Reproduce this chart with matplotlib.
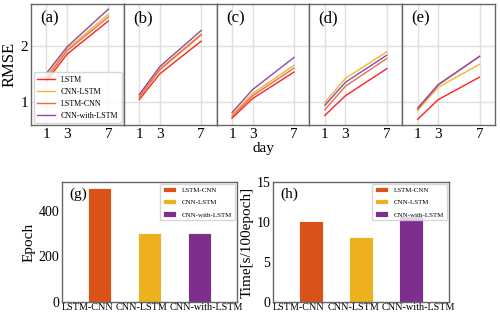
import numpy as np
import matplotlib
matplotlib.use('Agg')
import matplotlib.pyplot as plt

plt.rcParams['font.family'] = ['Liberation Serif', 'DejaVu Serif']

# data
days = [1, 3, 7]
models = ['LSTM', 'CNN-LSTM', 'LSTM-CNN', 'CNN-with-LSTM']
line_colors = ['#ff2020', '#f2b530', '#e57048', '#8e4aa8']
panel_names = ['(a)', '(b)', '(c)', '(d)', '(e)']

rmse = {
    '(a)': {'LSTM': [1.38, 1.86, 2.45], 'CNN-LSTM': [1.47, 1.95, 2.57],
            'LSTM-CNN': [1.43, 1.92, 2.52], 'CNN-with-LSTM': [1.52, 1.99, 2.66]},
    '(b)': {'LSTM': [1.05, 1.51, 2.09], 'CNN-LSTM': [1.11, 1.60, 2.22],
            'LSTM-CNN': [1.09, 1.58, 2.20], 'CNN-with-LSTM': [1.14, 1.64, 2.28]},
    '(c)': {'LSTM': [0.72, 1.07, 1.54], 'CNN-LSTM': [0.78, 1.16, 1.66],
            'LSTM-CNN': [0.75, 1.12, 1.61], 'CNN-with-LSTM': [0.82, 1.23, 1.80]},
    '(d)': {'LSTM': [0.77, 1.12, 1.60], 'CNN-LSTM': [1.00, 1.43, 1.90],
            'LSTM-CNN': [0.87, 1.29, 1.78], 'CNN-with-LSTM': [0.95, 1.36, 1.84]},
    '(e)': {'LSTM': [0.70, 1.05, 1.45], 'CNN-LSTM': [0.86, 1.27, 1.68],
            'LSTM-CNN': [0.88, 1.31, 1.82], 'CNN-with-LSTM': [0.90, 1.32, 1.82]},
}

bar_models = ['LSTM-CNN', 'CNN-LSTM', 'CNN-with-LSTM']
bar_colors = ['#d95319', '#edb120', '#7e2f8e']
epochs = [500, 300, 300]
times = [10.1, 8.1, 10.8]
label_pos = [-0.75, 0.33, 1.41]

spine_col = '#666666'
grid_col = '#e0e0e0'

fig = plt.figure(figsize=(5.0, 3.17), dpi=100)

# top row: five panels sharing y
left, right, bottom, top = 0.062, 0.99, 0.606, 0.987
w = (right - left) / 5
for i, p in enumerate(panel_names):
    ax = fig.add_axes([left + i * w, bottom, w, top - bottom])
    for m, c in zip(models, line_colors):
        ax.plot(days, rmse[p][m], color=c, lw=1.0, label=m)
    ax.set_xlim(-0.5, 8.5)
    ax.set_ylim(0.6, 2.75)
    ax.set_xticks(days)
    ax.set_yticks([1, 2])
    ax.grid(True, color=grid_col, lw=1.0)
    ax.set_axisbelow(True)
    ax.tick_params(length=0, labelsize=11, pad=2)
    for s in ax.spines.values():
        s.set_color(spine_col)
        s.set_linewidth(1.0)
    ax.text(0.1, 0.95, p, transform=ax.transAxes, fontsize=12, va='top', ha='left')
    if i == 0:
        ax.set_ylabel('RMSE', fontsize=12, labelpad=2)
        leg = ax.legend(loc='lower right', fontsize=5.8, frameon=True,
                        borderaxespad=0.25, handlelength=2.2, labelspacing=0.5,
                        fancybox=True)
        leg.get_frame().set_edgecolor('#cccccc')
    else:
        ax.tick_params(labelleft=False)
    if i == 2:
        ax.set_xlabel('day', fontsize=11, labelpad=1)

# bottom row: bar charts
xb = np.arange(len(bar_models))
specs = [
    ([0.124, 0.047, 0.35, 0.379], epochs, 'Epoch', '(g)', None, [0, 200, 400]),
    ([0.546, 0.047, 0.352, 0.379], times, 'Time[s/100epoch]', '(h)', (0, 15), [0, 5, 10, 15]),
]
for rect, vals, ylab, plab, ylim, yt in specs:
    ax = fig.add_axes(rect)
    for xi, v, c, m in zip(xb, vals, bar_colors, bar_models):
        ax.bar(xi, v, width=0.47, color=c, edgecolor='white', linewidth=0.6, label=m)
    ax.set_xlim(-0.75, 2.75)
    if ylim:
        ax.set_ylim(*ylim)
    ax.set_yticks(yt)
    ax.set_xticks(label_pos)
    ax.set_xticklabels(bar_models, fontsize=7.3, ha='left')
    ax.tick_params(length=0, pad=1)
    ax.tick_params(axis='y', labelsize=10, pad=2)
    ax.set_ylabel(ylab, fontsize=11, labelpad=2)
    for s in ax.spines.values():
        s.set_color(spine_col)
        s.set_linewidth(1.0)
    ax.text(0.04, 0.95, plab, transform=ax.transAxes, fontsize=11, va='top', ha='left')
    leg = ax.legend(loc='upper right', fontsize=5, frameon=True,
                    borderaxespad=0.3, handlelength=1.9, handleheight=0.8,
                    labelspacing=0.9, fancybox=True)
    leg.get_frame().set_edgecolor('#cccccc')

fig.savefig('out.png', dpi=100)
